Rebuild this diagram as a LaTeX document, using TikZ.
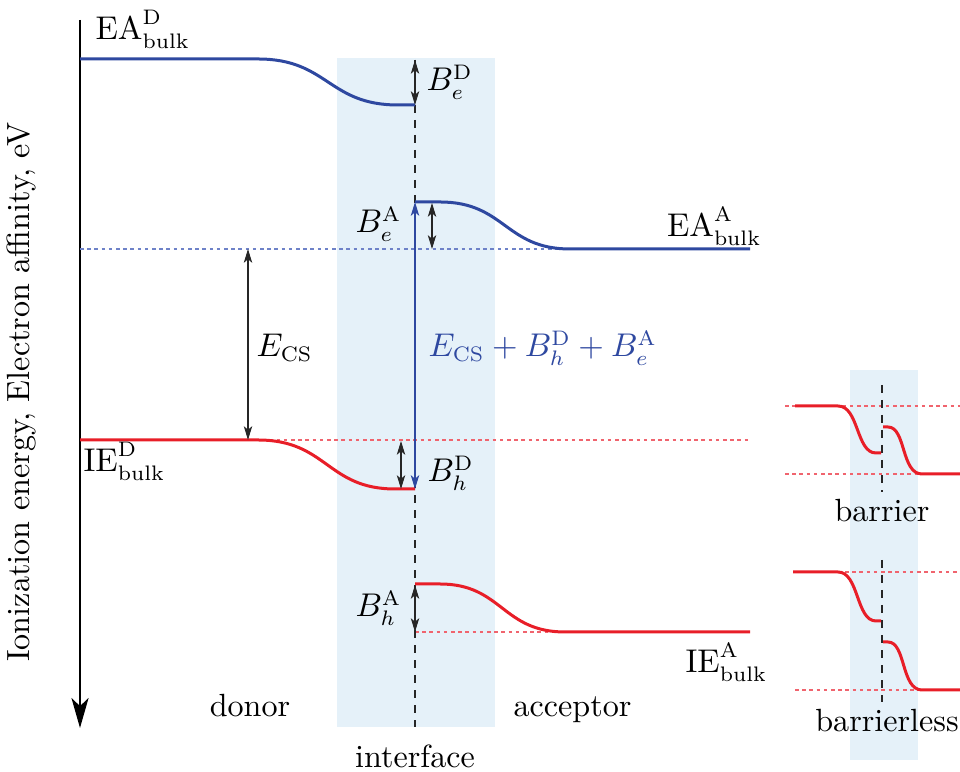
\documentclass[tikz,border=0pt]{standalone}
\usetikzlibrary{arrows.meta}
\definecolor{bandblue}{RGB}{229,241,249}
\definecolor{eablue}{RGB}{46,72,160}
\definecolor{iered}{RGB}{232,30,40}
\definecolor{dotblue}{RGB}{110,130,200}
\definecolor{dotred}{RGB}{240,100,110}
\begin{document}
\begin{tikzpicture}[x=0.3333pt,y=-0.3333pt,
  every node/.style={font=\fontsize{10.7}{13}\selectfont, inner sep=0pt},
  band/.style={fill=bandblue, draw=none},
  eaband/.style={draw=eablue, line width=1pt},
  ieband/.style={draw=iered, line width=1pt},
  bluedot/.style={draw=dotblue, line width=0.4pt, dash pattern=on 1.2pt off 1.2pt},
  reddot/.style={draw=dotred, line width=0.4pt, dash pattern=on 1.2pt off 1.2pt},
  iface/.style={draw=black!85, line width=0.45pt, dash pattern=on 2.6pt off 2.4pt},
  dimtip/.tip={Stealth[length=4.6pt,width=2.8pt,inset=1.2pt]},
  dimarrow/.style={draw=black!85, line width=0.35pt, dimtip-dimtip},
  bluearrow/.style={draw=eablue, line width=0.5pt, dimtip-dimtip}
]
\useasboundingbox (0,0) rectangle (960,772);

% interface bands
\fill[band] (337,58) rectangle (495,727);
\fill[band] (850,370) rectangle (918,760);

% axis
\coordinate (axtop) at (80,20);
\coordinate (axbot) at (80,728);
\draw[line width=0.4pt, -{Stealth[length=10pt,width=5.7pt,inset=2.7pt]}] (axtop) -- (axbot);
\node[rotate=90] (axlabel) at (21,392) {Ionization energy, Electron affinity, eV};

% coordinates
\coordinate (eaDs) at (80,59);
\coordinate (eaDi) at (415,105);
\coordinate (eaAi) at (415,202);
\coordinate (eaAb) at (750,249);
\coordinate (ieDs) at (80,440);
\coordinate (ieDi) at (415,489);
\coordinate (ieAi) at (415,584);
\coordinate (ieAb) at (750,632);

% dotted reference lines
\draw[bluedot] (80,249) -- (570,249);
\draw[reddot] (255,440) -- (750,440);
\draw[reddot] (415,632) -- (565,632);

% interface line
\draw[iface] (415,60) -- (415,727);

% energy levels
\draw[eaband] (eaDs) -- (258,59) .. controls (328,59) and (328,105) .. (398,105) -- (eaDi);
\draw[eaband] (eaAi) -- (440,202) .. controls (505,202) and (505,249) .. (570,249) -- (eaAb);
\draw[ieband] (ieDs) -- (258,440) .. controls (327,440) and (327,489) .. (395,489) -- (ieDi);
\draw[ieband] (ieAi) -- (440,584) .. controls (502,584) and (502,632) .. (565,632) -- (ieAb);

% dimension arrows
\coordinate (beDt) at (415,60);
\coordinate (beDb) at (415,105);
\draw[dimarrow] (beDt) -- (beDb);
\coordinate (beAt) at (432,203);
\coordinate (beAb) at (432,249);
\draw[dimarrow] (beAt) -- (beAb);
\coordinate (ecst) at (248,249);
\coordinate (ecsb) at (248,440);
\draw[dimarrow] (ecst) -- (ecsb);
\coordinate (bhDt) at (401,441);
\coordinate (bhDb) at (401,489);
\draw[dimarrow] (bhDt) -- (bhDb);
\coordinate (bhAt) at (415,585);
\coordinate (bhAb) at (415,632);
\draw[dimarrow] (bhAt) -- (bhAb);
\draw[bluearrow] (eaAi) -- (ieDi);

% labels
\node[anchor=base west] (lEAD) at (95,40) {$\mathrm{EA}^{\mathrm{D}}_{\mathrm{bulk}}$};
\node[anchor=base west] (lIED) at (83,472) {$\mathrm{IE}^{\mathrm{D}}_{\mathrm{bulk}}$};
\node[anchor=base east] (lEAA) at (762,237) {$\mathrm{EA}^{\mathrm{A}}_{\mathrm{bulk}}$};
\node[anchor=base west] (lIEA) at (685,673) {$\mathrm{IE}^{\mathrm{A}}_{\mathrm{bulk}}$};
\node[anchor=base west] (lBeD) at (426,91) {$B_e^{\mathrm{D}}$};
\node[anchor=base west] (lBeA) at (355,233) {$B_e^{\mathrm{A}}$};
\node[anchor=base west] (lBhD) at (427,482) {$B_h^{\mathrm{D}}$};
\node[anchor=base west] (lBhA) at (355,617) {$B_h^{\mathrm{A}}$};
\node[anchor=base west] (lECS) at (256,357) {$E_{\mathrm{CS}}$};
\node[anchor=base west, text=eablue] (lsum) at (428,357) {$E_{\mathrm{CS}}+B_h^{\mathrm{D}}+B_e^{\mathrm{A}}$};
\node[anchor=base] (ldonor) at (250,717) {donor};
\node[anchor=base west] (lacc) at (513,717) {acceptor};
\node[anchor=base] (liface) at (415,768) {interface};

% inset: barrier
\draw[reddot] (785,406) -- (960,406);
\draw[reddot] (785,474) -- (960,474);
\draw[iface] (882,385) -- (882,492);
\draw[ieband] (795,406) -- (838,406) .. controls (859,406) and (856,453) .. (876,453) -- (881,453);
\draw[ieband] (883,427) -- (888,427) .. controls (906,427) and (901,474) .. (922,474) -- (960,474);
\node[anchor=base] (lbar) at (882,522) {barrier};

% inset: barrierless
\draw[reddot] (845,572) -- (960,572);
\draw[reddot] (795,690) -- (960,690);
\draw[iface] (882,560) -- (882,702);
\draw[ieband] (793,572) -- (838,572) .. controls (859,572) and (856,621) .. (876,621) -- (881,621);
\draw[ieband] (883,642) -- (888,642) .. controls (906,642) and (901,690) .. (922,690) -- (960,690);
\node[anchor=base] (lbarless) at (887,732) {barrierless};
\end{tikzpicture}
\end{document}
